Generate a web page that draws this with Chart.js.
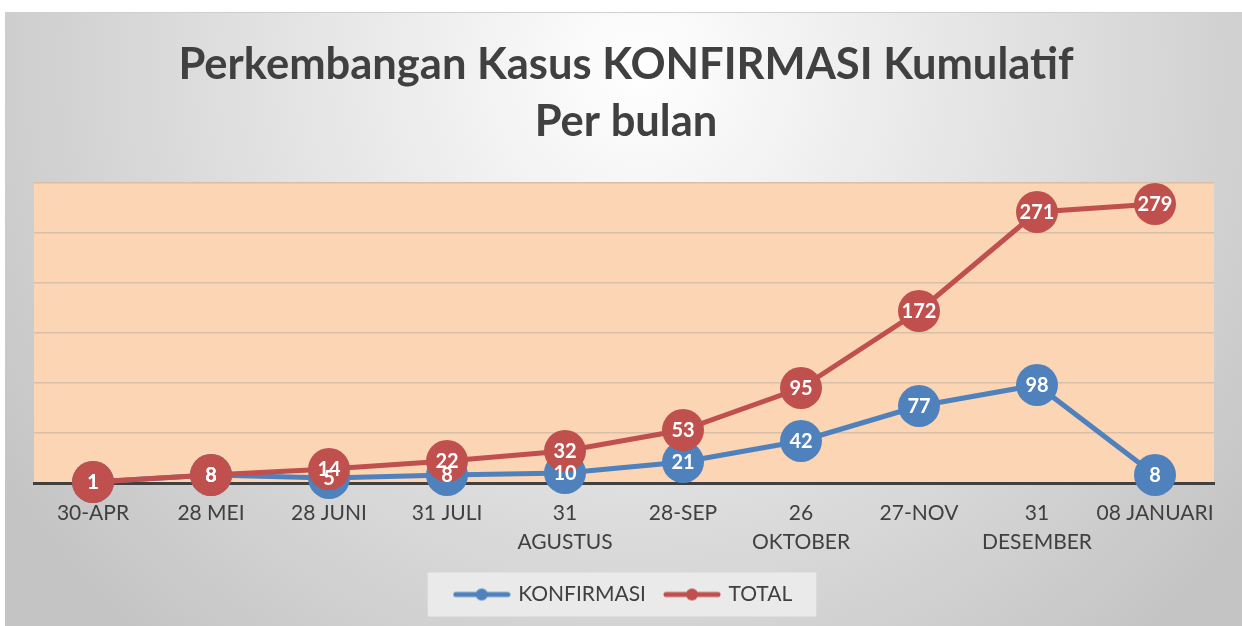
<!DOCTYPE html>
<html>
<head>
<meta charset="utf-8">
<script src="https://cdn.jsdelivr.net/npm/chart.js@4"></script>
<style>
  html, body { margin: 0; padding: 0; background: #fff; }
  #wrap { width: 1242px; height: 626px; position: relative; }
</style>
</head>
<body>
<div id="wrap"><canvas id="chart" width="1242" height="626"></canvas></div>
<script>
// Data
const labels = ['30-APR', '28 MEI', '28 JUNI', '31 JULI', ['31', 'AGUSTUS'], '28-SEP',
                ['26', 'OKTOBER'], '27-NOV', ['31', 'DESEMBER'], '08 JANUARI'];
const konfirmasi = [1, 8, 5, 8, 10, 21, 42, 77, 98, 8];
const total = [1, 8, 14, 22, 32, 53, 95, 172, 271, 279];
const titleLines = ['Perkembangan Kasus KONFIRMASI Kumulatif', 'Per bulan'];

const BLUE = '#4F81BD';
const RED = '#C0504D';
const FONT = 'Lato, "Open Sans", sans-serif';

// little line-with-dot icon for the legend
function legendIcon(color) {
    const c = document.createElement('canvas');
    c.width = 58; c.height = 14;
    const g = c.getContext('2d');
    g.strokeStyle = color;
    g.lineWidth = 5;
    g.lineCap = 'round';
    g.beginPath(); g.moveTo(3, 7); g.lineTo(55, 7); g.stroke();
    g.fillStyle = color;
    g.beginPath(); g.arc(29, 7, 6, 0, Math.PI * 2); g.fill();
    return c;
}

// background, plot area fill, legend box and title
const backdrop = {
    id: 'backdrop',
    beforeDraw(chart) {
        const { ctx, chartArea } = chart;
        ctx.save();
        ctx.fillStyle = '#ffffff';
        ctx.fillRect(0, 0, chart.width, chart.height);
        const grad = ctx.createRadialGradient(640, 70, 0, 640, 70, 760);
        grad.addColorStop(0, '#ffffff');
        grad.addColorStop(0.25, '#f0f0f0');
        grad.addColorStop(1, '#c4c4c4');
        ctx.fillStyle = grad;
        ctx.fillRect(5, 12, chart.width - 5, chart.height - 12);
        ctx.strokeStyle = '#cfcfcf';
        ctx.lineWidth = 1;
        ctx.beginPath(); ctx.moveTo(5, 12.5); ctx.lineTo(chart.width, 12.5); ctx.stroke();

        ctx.fillStyle = '#FCD5B5';
        ctx.fillRect(chartArea.left, chartArea.top, chartArea.right - chartArea.left, chartArea.bottom - chartArea.top);

        // legend frame around the built-in legend items
        const boxes = chart.legend && chart.legend.legendHitBoxes;
        if (boxes && boxes.length) {
            const l = Math.min(...boxes.map(b => b.left));
            const r = Math.max(...boxes.map(b => b.left + b.width));
            const cy = boxes[0].top + boxes[0].height / 2;
            ctx.fillStyle = 'rgba(236,236,236,0.9)';
            ctx.fillRect(l - 28, cy - 22, r - l + 52, 44);
        }

        ctx.fillStyle = '#404040';
        ctx.textAlign = 'center';
        ctx.textBaseline = 'alphabetic';
        ctx.font = 'bold 43.5px ' + FONT;
        ctx.fillText(titleLines[0], 626, 79);
        ctx.fillText(titleLines[1], 626, 136);
        ctx.restore();
    }
};

// white value labels inside the markers
const valueLabels = {
    id: 'valueLabels',
    afterDatasetsDraw(chart) {
        const { ctx } = chart;
        ctx.save();
        ctx.fillStyle = '#ffffff';
        ctx.textAlign = 'center';
        ctx.textBaseline = 'middle';
        ctx.font = 'bold 20px ' + FONT;
        chart.data.datasets.forEach((ds, i) => {
            const meta = chart.getDatasetMeta(i);
            meta.data.forEach((pt, j) => {
                ctx.fillText(String(ds.data[j]), pt.x, pt.y + 1);
            });
        });
        ctx.restore();
    }
};

new Chart(document.getElementById('chart'), {
    type: 'line',
    data: {
        labels: labels,
        datasets: [
            {
                label: 'KONFIRMASI',
                data: konfirmasi,
                order: 2,
                clip: false,
                borderColor: BLUE,
                backgroundColor: BLUE,
                borderWidth: 5,
                pointRadius: 21,
                pointBorderWidth: 0,
                pointBackgroundColor: BLUE,
                pointStyle: 'circle',
                tension: 0
            },
            {
                label: 'TOTAL',
                data: total,
                order: 1,
                clip: false,
                borderColor: RED,
                backgroundColor: RED,
                borderWidth: 5,
                pointRadius: 21,
                pointBorderWidth: 0,
                pointBackgroundColor: RED,
                pointStyle: 'circle',
                tension: 0
            }
        ]
    },
    options: {
        responsive: false,
        animation: false,
        layout: { padding: { top: 183, left: 34, right: 28, bottom: 11 } },
        plugins: {
            tooltip: { enabled: false },
            title: { display: false },
            legend: {
                position: 'bottom',
                labels: {
                    usePointStyle: true,
                    pointStyleWidth: 52,
                    color: '#404040',
                    font: { family: FONT, size: 21 },
                    padding: 20,
                    generateLabels(chart) {
                        return chart.data.datasets.map((ds, i) => ({
                            text: ds.label,
                            pointStyle: legendIcon(ds.borderColor),
                            fillStyle: ds.borderColor,
                            strokeStyle: ds.borderColor,
                            lineWidth: 0,
                            fontColor: '#404040',
                            datasetIndex: i
                        }));
                    }
                }
            }
        },
        scales: {
            x: {
                offset: true,
                grid: { display: false },
                border: { display: true, color: '#404040', width: 3 },
                ticks: {
                    color: '#404040',
                    font: { family: FONT, size: 21, lineHeight: 1.38 },
                    padding: 8,
                    maxRotation: 0,
                    autoSkip: false
                },
                afterFit(scale) { scale.height = 81; }
            },
            y: {
                min: 0,
                max: 300,
                ticks: { display: false, stepSize: 50 },
                border: { display: false },
                grid: { color: '#D8BFA8', lineWidth: 1.5, drawTicks: false },
                afterFit(scale) { scale.width = 0; }
            }
        }
    },
    plugins: [backdrop, valueLabels]
});
</script>
</body>
</html>
